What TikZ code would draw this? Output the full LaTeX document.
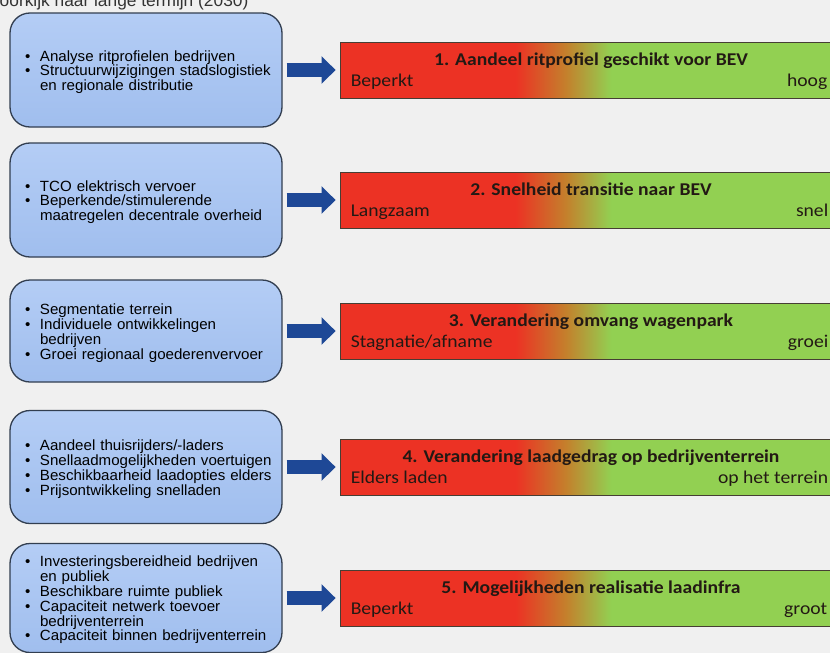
\documentclass[tikz,border=0pt]{standalone}
\usepackage{fontspec}
\setmainfont{Liberation Sans}[FakeStretch=1.02]
\newfontfamily\barfont{Carlito}[FakeStretch=1.09]
\usetikzlibrary{arrows.meta,positioning}
\hyphenpenalty=10000

\definecolor{bgcolor}{RGB}{240,240,240}
\definecolor{boxtop}{RGB}{180,205,245}
\definecolor{boxbottom}{RGB}{160,190,238}
\definecolor{boxline}{RGB}{50,62,80}
\definecolor{arrowblue}{RGB}{30,72,150}
\definecolor{barred}{RGB}{236,50,36}
\definecolor{barmid}{RGB}{196,128,44}
\definecolor{bargreen}{RGB}{146,208,82}
\definecolor{barline}{RGB}{70,62,52}
\definecolor{bartext}{RGB}{35,25,20}

\pgfdeclarehorizontalshading{redgreen}{100bp}{color(0bp)=(barred); color(42.5bp)=(barred); color(47.5bp)=(barmid); color(52bp)=(bargreen); color(100bp)=(bargreen)}

\newcommand{\itm}[1]{\par\noindent\makebox[25pt][l]{\hspace{10pt}\textbullet}#1}
\newcommand{\cnt}[1]{\par\noindent\makebox[25pt][l]{}#1}

\begin{document}
\begin{tikzpicture}[x=1pt, y=-1pt,
    infobox/.style={rectangle, rounded corners=20pt, draw=boxline, line width=1.3pt, top color=boxtop, bottom color=boxbottom, minimum width=272pt, text width=262pt, inner xsep=5pt, align=left, font=\fontsize{14.8}{14.8}\selectfont},
    bar/.style={rectangle, draw=barline, line width=0.9pt, shading=redgreen, minimum width=502pt, minimum height=56pt},
    bartitle/.style={font=\barfont\bfseries\fontsize{18}{20}\selectfont, text=bartext, inner sep=0pt, anchor=base},
    barlow/.style={font=\barfont\fontsize{18}{20}\selectfont, text=bartext, inner sep=0pt},
    arrow/.style={-{Triangle[length=14pt,width=27pt]}, line width=14pt, draw=arrowblue, shorten <=4pt, shorten >=4pt}
]
\useasboundingbox (0,0) rectangle (830,653);
\clip (0,0) rectangle (830,653);
\fill[bgcolor] (0,0) rectangle (830,653);

% Heading (cut off by the frame)
\node[font=\fontsize{17}{19}\selectfont, text=black!80, inner sep=0pt, anchor=base west] (kop) at (-13,6) {Doorkijk naar lange termijn (2030)};

% Row 1
\node[infobox, minimum height=114pt] (f1) at (146,70) {\itm{Analyse ritprofielen bedrijven}\itm{Structuurwijzigingen stadslogistiek}\cnt{en regionale distributie}};
\node[bar] (b1) at (591,70) {};
\node[bartitle] (t1) at ([yshift=5pt]b1.center) {1. Aandeel ritprofiel geschikt voor BEV};
\node[barlow, anchor=base west] (l1) at ([xshift=11pt,yshift=-16pt]b1.west) {Beperkt};
\node[barlow, anchor=base east] (r1) at ([xshift=-15pt,yshift=-16pt]b1.east) {hoog};

% Row 2
\node[infobox, minimum height=114pt] (f2) at (146,200) {\itm{TCO elektrisch vervoer}\itm{Beperkende/stimulerende}\cnt{maatregelen decentrale overheid}};
\node[bar] (b2) at (591,200) {};
\node[bartitle] (t2) at ([yshift=5pt]b2.center) {2. Snelheid transitie naar BEV};
\node[barlow, anchor=base west] (l2) at ([xshift=11pt,yshift=-16pt]b2.west) {Langzaam};
\node[barlow, anchor=base east] (r2) at ([xshift=-14pt,yshift=-16pt]b2.east) {snel};

% Row 3
\node[infobox, minimum height=102pt] (f3) at (146,331) {\itm{Segmentatie terrein}\itm{Individuele ontwikkelingen}\cnt{bedrijven}\itm{Groei regionaal goederenvervoer}};
\node[bar] (b3) at (591,331) {};
\node[bartitle] (t3) at ([yshift=5pt]b3.center) {3. Verandering omvang wagenpark};
\node[barlow, anchor=base west] (l3) at ([xshift=11pt,yshift=-16pt]b3.west) {Stagnatie/afname};
\node[barlow, anchor=base east] (r3) at ([xshift=-14pt,yshift=-16pt]b3.east) {groei};

% Row 4
\node[infobox, minimum height=113pt] (f4) at (146,467) {\itm{Aandeel thuisrijders/-laders}\itm{Snellaadmogelijkheden voertuigen}\itm{Beschikbaarheid laadopties elders}\itm{Prijsontwikkeling snelladen}};
\node[bar] (b4) at (591,467) {};
\node[bartitle] (t4) at ([yshift=5pt]b4.center) {4. Verandering laadgedrag op bedrijventerrein};
\node[barlow, anchor=base west] (l4) at ([xshift=11pt,yshift=-16pt]b4.west) {Elders laden};
\node[barlow, anchor=base east] (r4) at ([xshift=-14pt,yshift=-16pt]b4.east) {op het terrein};

% Row 5
\node[infobox, minimum height=109pt] (f5) at (146,598) {\itm{Investeringsbereidheid bedrijven}\cnt{en publiek}\itm{Beschikbare ruimte publiek}\itm{Capaciteit netwerk toevoer}\cnt{bedrijventerrein}\itm{Capaciteit binnen bedrijventerrein}};
\node[bar] (b5) at (591,598) {};
\node[bartitle] (t5) at ([yshift=5pt]b5.center) {5. Mogelijkheden realisatie laadinfra};
\node[barlow, anchor=base west] (l5) at ([xshift=11pt,yshift=-16pt]b5.west) {Beperkt};
\node[barlow, anchor=base east] (r5) at ([xshift=-15pt,yshift=-16pt]b5.east) {groot};

% Arrows
\draw[arrow] (f1) -- (b1);
\draw[arrow] (f2) -- (b2);
\draw[arrow] (f3) -- (b3);
\draw[arrow] (f4) -- (b4);
\draw[arrow] (f5) -- (b5);

\end{tikzpicture}
\end{document}
